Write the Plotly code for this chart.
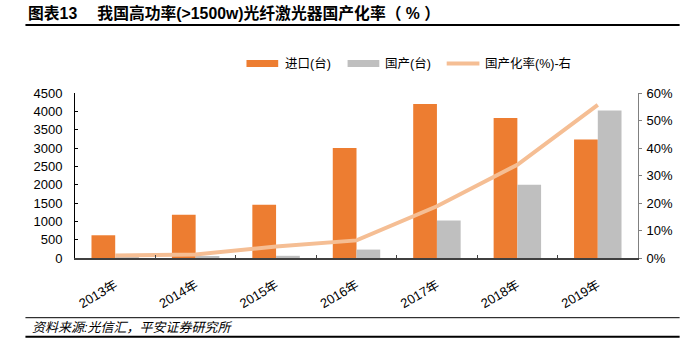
import plotly.graph_objects as go

years = ["2013年", "2014年", "2015年", "2016年", "2017年", "2018年", "2019年"]
imports = [620, 1180, 1450, 3000, 4200, 3820, 3230]
domestic = [20, 30, 60, 230, 1020, 2000, 4020]
rate = [0.009, 0.013, 0.042, 0.064, 0.188, 0.339, 0.557]

left_ticks = [0, 500, 1000, 1500, 2000, 2500, 3000, 3500, 4000, 4500]
right_ticks = [0, 0.1, 0.2, 0.3, 0.4, 0.5, 0.6]
series_names = ["进口(台)", "国产(台)", "国产化率(%)-右"]

W, H = 685, 350
ML, MR, MT, MB = 75, 42, 93, 92
PW, PH = W - ML - MR, H - MT - MB

def px2x(px):
    return (px - ML) / PW

def px2y(py):
    return (H - MB - py) / PH

FONT = "Liberation Sans, Arial, Noto Sans CJK SC, sans-serif"
ORANGE = "#ED7D31"
GRAY = "#BFBFBF"
LIGHT = "#F5BE94"

fig = go.Figure()
fig.add_trace(go.Bar(x=years, y=imports, name=series_names[0], marker_color=ORANGE,
                     marker_line_width=0, showlegend=False))
fig.add_trace(go.Bar(x=years, y=domestic, name=series_names[1], marker_color=GRAY,
                     marker_line_width=0, showlegend=False))
fig.add_trace(go.Scatter(x=years, y=rate, name=series_names[2], yaxis="y2",
                         mode="lines", line=dict(color=LIGHT, width=4), showlegend=False))

fig.update_layout(
    width=W, height=H,
    margin=dict(l=ML, r=MR, t=MT, b=MB, pad=0),
    paper_bgcolor="white", plot_bgcolor="white",
    font=dict(family=FONT, size=12, color="#000"),
    barmode="group", bargap=0.41, bargroupgap=0,
    showlegend=False,
    title=dict(text="<b>图表13　 我国高功率(>1500w)光纤激光器国产化率（ % ）</b>",
               x=28 / W, xanchor="left", xref="container",
               y=1 - 13.5 / H, yanchor="middle", yref="container",
               font=dict(size=15.8, color="#000", family=FONT)),
    xaxis=dict(type="category", showgrid=False, showline=True, linecolor="#404040", linewidth=1.5,
               ticks="inside", ticklen=3, tickcolor="#404040", tickangle=-30,
               tickson="boundaries", tickfont=dict(size=13), ticklabelstandoff=13),
    yaxis=dict(range=[0, 4500], tickvals=left_ticks, showgrid=False, zeroline=False,
               showline=True, linecolor="#000", linewidth=1, ticks="inside", ticklen=3,
               tickcolor="#000", tickfont=dict(size=13), ticklabelstandoff=9),
    yaxis2=dict(range=[0, 0.6], tickvals=right_ticks, tickformat=".0%", overlaying="y",
                side="right", showgrid=False, zeroline=False, showline=True,
                linecolor="#808080", linewidth=1, ticks="outside", ticklen=3,
                tickcolor="#808080", tickfont=dict(size=13), ticklabelstandoff=2),
)

shapes = [
    dict(type="line", xref="paper", yref="paper", x0=px2x(25), x1=px2x(W), y0=px2y(25), y1=px2y(25),
         line=dict(color="#000", width=2)),
    dict(type="line", xref="paper", yref="paper", x0=px2x(25), x1=px2x(W), y0=px2y(317.7), y1=px2y(317.7),
         line=dict(color="#000", width=1)),
    dict(type="line", xref="paper", yref="paper", x0=px2x(25), x1=px2x(W), y0=px2y(336.7), y1=px2y(336.7),
         line=dict(color="#000", width=2)),
]
# legend (manual)
leg_y = 63.5
leg_items = [(248, 285, ORANGE, "rect"), (350, 386, GRAY, "rect"), (450, 487, LIGHT, "line")]
for (sx, tx, col, kind), nm in zip(leg_items, series_names):
    if kind == "rect":
        shapes.append(dict(type="rect", xref="paper", yref="paper", x0=px2x(sx), x1=px2x(sx + 32),
                           y0=px2y(leg_y - 3.5), y1=px2y(leg_y + 3.5), fillcolor=col, line=dict(width=0)))
    else:
        shapes.append(dict(type="line", xref="paper", yref="paper", x0=px2x(sx), x1=px2x(sx + 33),
                           y0=px2y(leg_y), y1=px2y(leg_y), line=dict(color=col, width=4)))
    fig.add_annotation(text=nm, xref="paper", yref="paper", x=px2x(tx), y=px2y(leg_y),
                       xanchor="left", yanchor="middle", showarrow=False,
                       font=dict(size=12.5, color="#000", family=FONT))
fig.update_layout(shapes=shapes)
fig.add_annotation(text="<i>资料来源:光信汇，平安证券研究所</i>", xref="paper", yref="paper",
                   x=px2x(30), y=px2y(327.7), xanchor="left", yanchor="middle", showarrow=False,
                   font=dict(size=13, color="#000", family=FONT))

fig.write_html("out.html")
